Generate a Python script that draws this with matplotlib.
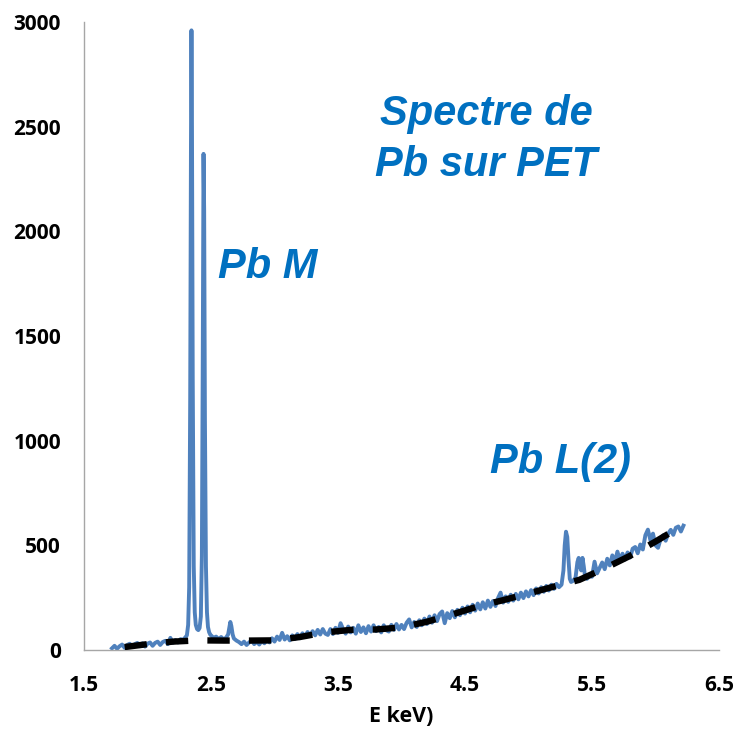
import numpy as np
import matplotlib.pyplot as plt

# Spectre EDX : énergie (keV) et nombre de coups
energie = [
    1.72, 1.74, 1.76, 1.78, 1.80, 1.82, 1.84, 1.86, 1.88, 1.90,
    1.92, 1.94, 1.96, 1.98, 2.00, 2.02, 2.04, 2.06, 2.08, 2.10,
    2.12, 2.14, 2.16, 2.18, 2.20, 2.22, 2.24, 2.26, 2.28, 2.30,
    # raies M du plomb
    2.31, 2.32, 2.328, 2.336, 2.342, 2.346, 2.350, 2.356, 2.364, 2.372,
    2.38, 2.39, 2.40, 2.41, 2.42, 2.428, 2.435, 2.441, 2.446, 2.452,
    2.46, 2.468, 2.476, 2.485, 2.495,
    2.50, 2.52, 2.54, 2.56, 2.58, 2.60, 2.62, 2.635, 2.645, 2.652,
    2.66, 2.67, 2.68, 2.70,
    2.72, 2.74, 2.76, 2.78, 2.80, 2.82, 2.84, 2.86, 2.88, 2.90,
    2.92, 2.94, 2.96, 2.98, 3.00, 3.02, 3.04, 3.06, 3.08, 3.10,
    3.12, 3.14, 3.16, 3.18, 3.20, 3.22, 3.24, 3.26, 3.28, 3.30,
    3.32, 3.34, 3.36, 3.38, 3.40, 3.42, 3.44, 3.46, 3.48, 3.50,
    3.52, 3.54, 3.56, 3.58, 3.60, 3.62, 3.64, 3.66, 3.68, 3.70,
    3.72, 3.74, 3.76, 3.78, 3.80, 3.82, 3.84, 3.86, 3.88, 3.90,
    3.92, 3.94, 3.96, 3.98, 4.00, 4.02, 4.04, 4.06, 4.08, 4.10,
    4.12, 4.14, 4.16, 4.18, 4.20, 4.22, 4.24, 4.26, 4.28, 4.30,
    4.32, 4.34, 4.36, 4.38, 4.40, 4.42, 4.44, 4.46, 4.48, 4.50,
    4.52, 4.54, 4.56, 4.58, 4.60, 4.62, 4.64, 4.66, 4.68, 4.70,
    4.72, 4.74, 4.76, 4.78, 4.80, 4.82, 4.84, 4.86, 4.88, 4.90,
    4.92, 4.94, 4.96, 4.98, 5.00, 5.02, 5.04, 5.06, 5.08, 5.10,
    5.12, 5.14, 5.16, 5.18, 5.20, 5.22, 5.24,
    # raie L du plomb (2e ordre)
    5.26, 5.275, 5.285, 5.295, 5.305, 5.315, 5.325, 5.335, 5.35, 5.37,
    5.385, 5.395, 5.405, 5.415, 5.425, 5.435, 5.445, 5.46, 5.48,
    5.50, 5.52, 5.54, 5.56, 5.58, 5.60, 5.62, 5.64, 5.66, 5.68,
    5.70, 5.72, 5.74, 5.76, 5.78, 5.80, 5.82, 5.84, 5.86, 5.88,
    5.90, 5.92, 5.94, 5.96, 5.98, 6.00, 6.02, 6.04, 6.06, 6.08,
    6.10, 6.12, 6.14, 6.16, 6.18, 6.20, 6.22,
]
coups = [
    8, 20, 6, 18, 26, 10, 24, 30, 14, 28,
    34, 18, 32, 16, 30, 36, 20, 34, 40, 24,
    38, 44, 28, 58, 34, 48, 36, 52, 48, 62,
    70, 120, 300, 1200, 2400, 2960, 2500, 1300, 400, 180,
    120, 100, 95, 105, 160, 450, 1400, 2370, 2100, 1100,
    400, 180, 110, 85, 72,
    70, 58, 64, 52, 62, 50, 60, 75, 110, 134,
    115, 75, 55, 45,
    38, 28, 40, 24, 36, 46, 28, 40, 26, 44,
    32, 48, 36, 56, 40, 64, 48, 82, 50, 66,
    46, 70, 52, 76, 56, 80, 62, 86, 68, 90,
    70, 96, 74, 100, 78, 72, 100, 76, 106, 82,
    128, 100, 78, 112, 84, 106, 78, 118, 86, 108,
    80, 114, 88, 118, 90, 110, 84, 118, 94, 88,
    120, 96, 124, 98, 120, 100, 130, 146, 108, 134,
    110, 142, 118, 150, 124, 160, 130, 166, 138, 172,
    184, 128, 176, 152, 186, 156, 192, 166, 202, 174,
    208, 180, 216, 188, 222, 194, 228, 198, 236, 206,
    234, 210, 248, 274, 226, 256, 230, 264, 236, 268,
    242, 274, 248, 280, 256, 286, 262, 294, 270, 300,
    278, 306, 284, 312, 292, 316, 300,
    312, 380, 500, 565, 540, 430, 340, 325, 330, 345,
    420, 440, 400, 380, 440, 400, 350, 340, 352,
    350, 422, 366, 392, 418, 386, 436, 404, 452, 420,
    470, 428, 460, 432, 466, 442, 484, 492, 462, 504,
    480, 548, 575, 524, 556, 500, 488, 530, 548, 522,
    556, 574, 550, 584, 590, 566, 594,
]

# Fond continu (ligne pointillée)
fond_e = [1.82, 2.0, 2.2, 2.4, 2.6, 2.8, 3.0, 3.2, 3.4, 3.6, 3.8, 4.0,
          4.2, 4.4, 4.6, 4.8, 5.0, 5.2, 5.4, 5.6, 5.8, 6.0, 6.14]
fond_c = [14, 28, 40, 46, 45, 45, 46, 62, 84, 96, 98, 108,
          135, 170, 208, 238, 270, 303, 335, 390, 450, 518, 569]

x_ticks = [1.5, 2.5, 3.5, 4.5, 5.5, 6.5]
y_ticks = [0, 500, 1000, 1500, 2000, 2500, 3000]

bleu_titre = '#0070C0'

fig = plt.figure(figsize=(7.37, 7.30), dpi=100)
ax = fig.add_axes([0.114, 0.1096, 0.8616, 0.8603])

ax.plot(energie, coups, color='#4F81BD', linewidth=2.8, solid_joinstyle='round',
        zorder=2)
ax.plot(fond_e, fond_c, color='black', linewidth=4.6, linestyle=(0, (3.5, 3.0)),
        zorder=3)

ax.set_xlim(1.5, 6.5)
ax.set_ylim(0, 3000)
ax.set_xticks(x_ticks)
ax.set_xticklabels([f'{v:.1f}' for v in x_ticks])
ax.set_yticks(y_ticks)

for s in ['top', 'right']:
    ax.spines[s].set_visible(False)
for s in ['left', 'bottom']:
    ax.spines[s].set_color('#A6A6A6')
    ax.spines[s].set_linewidth(1.0)

ax.tick_params(axis='y', length=0, pad=16.5)
ax.tick_params(axis='x', length=0, pad=18)
for lab in ax.get_xticklabels() + ax.get_yticklabels():
    lab.set_fontweight('bold')
    lab.set_fontfamily('Open Sans')
    lab.set_fontsize(15)

ax.set_xlabel('E keV)', fontsize=15.5, fontweight='bold', family='Open Sans',
              labelpad=7)

txt = dict(color=bleu_titre, fontsize=30, fontweight='bold', style='italic',
           family='Liberation Sans', va='baseline')
ax.text(4.665, 2508, 'Spectre de', ha='center', **txt)
ax.text(4.665, 2264, 'Pb sur PET', ha='center', **txt)
ax.text(2.555, 1777, 'Pb M', ha='left', **txt)
ax.text(4.697, 845, 'Pb L(2)', ha='left', **txt)

fig.savefig('out.png', dpi=100)
